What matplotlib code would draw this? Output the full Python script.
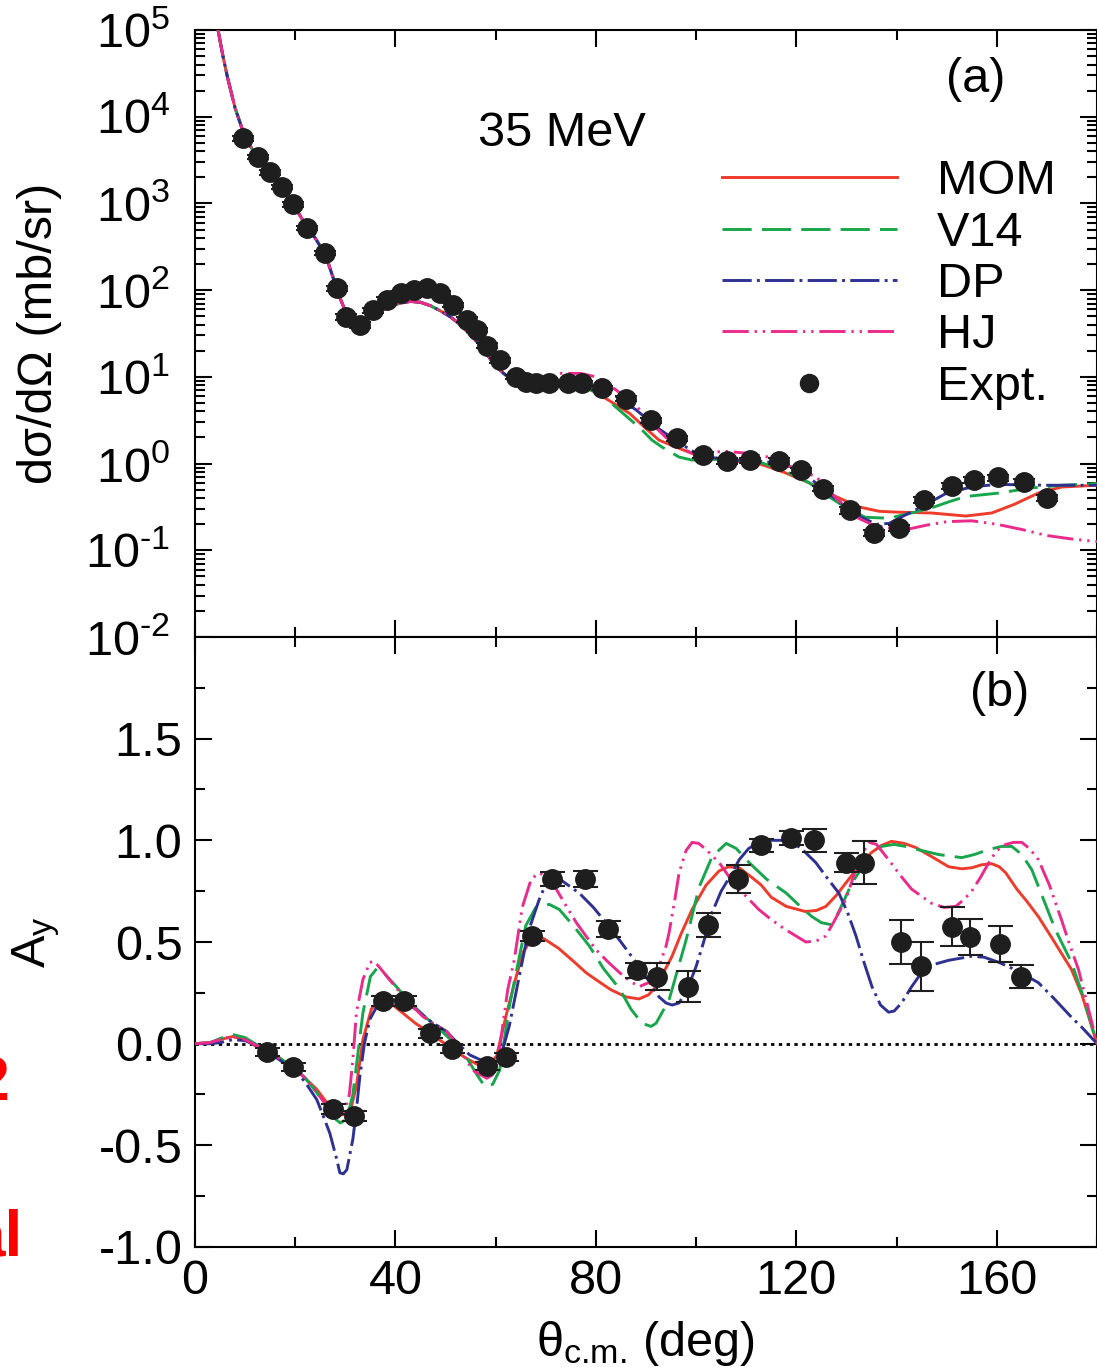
import numpy as np
import matplotlib.pyplot as plt
from matplotlib.lines import Line2D
from matplotlib.ticker import (LogLocator, FuncFormatter, NullFormatter,
                               FixedLocator, MultipleLocator, FormatStrFormatter)

# ---------------- (a) cross section, stored as log10(mb/sr) ----------------
# forward angles: all four potentials agree here
XS_THETA_FWD = [4.6, 5.5, 6.5, 8, 10, 12, 14, 16, 18, 20, 22, 24, 26, 28, 29,
                30.5, 32, 33.5, 35, 37, 39, 41, 43, 45, 47, 49, 51, 53, 55, 57,
                59, 60, 62, 64]
XS_LOG_FWD = [5.0, 4.72, 4.45, 4.1, 3.76, 3.57, 3.42, 3.26, 3.12, 2.95, 2.76,
              2.6, 2.41, 2.07, 1.9, 1.69, 1.6, 1.61, 1.68, 1.76, 1.82, 1.85,
              1.87, 1.86, 1.82, 1.76, 1.69, 1.6, 1.48, 1.36, 1.2, 1.12, 1.02,
              0.95]

MOM_XS_THETA = [67, 70, 74, 77, 80, 82, 84.5, 86.7, 89.5, 92.6, 96, 99.5, 102.6,
                107, 112.5, 117.5, 122.5, 127.5, 132.5, 136.5, 140, 147, 153.8,
                159, 163.5, 168.3, 173, 180]
MOM_XS_LOG = [0.93, 0.93, 0.93, 0.91, 0.82, 0.75, 0.66, 0.58, 0.43, 0.27, 0.19,
              0.11, 0.06, 0.03, 0.0, -0.1, -0.22, -0.37, -0.5, -0.55, -0.56,
              -0.57, -0.605, -0.57, -0.47, -0.34, -0.27, -0.25]

V14_XS_THETA = [67, 70, 74, 77, 80, 83, 86, 89, 91.2, 93.2, 96.6, 99.2, 103, 108,
                112.5, 117.5, 122.5, 127, 130.5, 133.8, 138.4, 143, 147, 150.5,
                153.8, 160.4, 167, 173, 180]
V14_XS_LOG = [0.93, 0.93, 0.93, 0.9, 0.82, 0.7, 0.55, 0.4, 0.27, 0.19, 0.075,
              0.04, 0.05, 0.04, 0.02, -0.08, -0.22, -0.4, -0.53, -0.62, -0.63,
              -0.57, -0.51, -0.44, -0.38, -0.34, -0.28, -0.25, -0.23]

DP_XS_THETA = [67, 70, 74, 77, 80, 83.3, 88, 92.6, 96.6, 100, 103, 108, 112.5,
               117, 121, 125, 129, 133, 136, 138.5, 141.5, 145, 150, 155, 160,
               170, 180]
DP_XS_LOG = [0.93, 0.93, 0.94, 0.93, 0.88, 0.8, 0.62, 0.4, 0.24, 0.12, 0.07,
             0.04, 0.03, 0.0, -0.08, -0.28, -0.46, -0.62, -0.7, -0.69, -0.6,
             -0.5, -0.34, -0.27, -0.24, -0.25, -0.25]

HJ_XS_THETA = [67, 70, 73, 77, 80, 84, 88, 91, 94, 97, 99.2, 102, 106, 110, 114,
               118, 121, 124, 128, 132, 135, 138, 142, 146, 150, 155, 160, 165,
               170, 175, 180]
HJ_XS_LOG = [0.95, 1.0, 1.04, 1.04, 1.0, 0.85, 0.67, 0.47, 0.3, 0.18, 0.12, 0.13,
             0.14, 0.12, 0.08, -0.02, -0.08, -0.155, -0.4, -0.62, -0.7, -0.74,
             -0.76, -0.71, -0.67, -0.66, -0.7, -0.76, -0.83, -0.87, -0.9]

EXP_XS_THETA = [9.6, 12.5, 14.9, 17.3, 19.5, 22.3, 25.9, 28.3, 30.1, 32.9, 35.5,
                38.4, 41.2, 43.8, 46.2, 48.8, 51.4, 54.2, 56.2, 58.2, 60.8, 64.1,
                66.0, 68.0, 70.6, 74.5, 77.2, 81.3, 86.1, 91.0, 96.2, 101.4,
                106.2, 110.8, 116.5, 121.0, 125.4, 130.7, 135.5, 140.5, 145.4,
                151.0, 155.4, 160.2, 165.4, 170.0]
EXP_XS_LOG = [3.75, 3.535, 3.36, 3.19, 2.99, 2.72, 2.43, 2.02, 1.69, 1.6, 1.77,
              1.89, 1.97, 2.0, 2.02, 1.97, 1.83, 1.66, 1.54, 1.36, 1.19, 1.0,
              0.935, 0.925, 0.93, 0.93, 0.925, 0.87, 0.75, 0.5, 0.29, 0.1, 0.03,
              0.04, 0.03, -0.075, -0.29, -0.54, -0.8, -0.74, -0.42, -0.26, -0.19,
              -0.16, -0.21, -0.4]
EXP_XS_RELERR = [0.06, 0.06, 0.06, 0.06, 0.06, 0.06, 0.06, 0.07, 0.07, 0.07, 0.07,
                 0.06, 0.06, 0.06, 0.06, 0.06, 0.06, 0.06, 0.06, 0.06, 0.06, 0.06,
                 0.06, 0.06, 0.06, 0.06, 0.06, 0.06, 0.07, 0.07, 0.07, 0.07, 0.07,
                 0.07, 0.07, 0.07, 0.07, 0.08, 0.08, 0.08, 0.08, 0.08, 0.08, 0.08,
                 0.08, 0.08]

# ---------------- (b) analyzing power ----------------
MOM_AY_THETA = [0, 3, 5, 7.5, 10, 12.3, 14, 16.3, 18, 20.3, 22, 24.3, 26, 27.5,
                29.5, 30.9, 32.2, 33.5, 35.2, 37.2, 39, 41.5, 44, 46.8, 49, 52.2,
                54, 56.2, 58.4, 60.2, 62.2, 64.1, 65.5, 67.3, 69, 70, 72.5, 75.3,
                78, 80, 83, 86, 88.6, 90.5, 92, 93.5, 95.2, 97, 99.2, 102, 104.6,
                106.5, 108.6, 111, 113, 115, 118, 121.8, 124, 125.9, 128, 130.5,
                133, 135, 137, 139, 141.5, 143.8, 147, 150.4, 153, 155, 157, 159,
                160.5, 161.8, 164, 166, 168.3, 171, 174.9, 177, 180]
MOM_AY = [0, 0.005, 0.02, 0.035, 0.02, -0.015, -0.035, -0.06, -0.09, -0.13,
          -0.17, -0.225, -0.28, -0.32, -0.35, -0.34, -0.21, 0.02, 0.17, 0.225,
          0.2, 0.15, 0.1, 0.055, 0.015, -0.04, -0.07, -0.1, -0.115, -0.06, 0.15,
          0.33, 0.45, 0.52, 0.525, 0.51, 0.47, 0.41, 0.35, 0.315, 0.265, 0.23,
          0.22, 0.24, 0.28, 0.35, 0.43, 0.54, 0.66, 0.78, 0.85, 0.87, 0.865,
          0.82, 0.78, 0.72, 0.675, 0.65, 0.655, 0.675, 0.73, 0.81, 0.89, 0.94,
          0.975, 0.995, 0.985, 0.965, 0.92, 0.87, 0.86, 0.865, 0.88, 0.885,
          0.87, 0.84, 0.76, 0.7, 0.625, 0.52, 0.365, 0.24, 0.0]

V14_AY_THETA = [0, 3, 5, 7.5, 10, 12.3, 14, 16.3, 18, 20.3, 22, 24.3, 26, 27.5,
                29, 30.3, 31.5, 32.5, 33.5, 35, 36.3, 38, 40.2, 43, 46, 48.2, 51,
                54, 56.2, 57.8, 59.4, 60.8, 62.7, 64.5, 66, 68, 70.7, 72.7, 75.5,
                78.7, 81.5, 84.7, 87, 89.2, 91, 92, 94.6, 96.5, 98, 100.6, 103.2,
                106, 108, 110.6, 114, 118, 121, 123.1, 125, 127, 128.5, 131.1, 134,
                137, 139.5, 141.8, 145, 148.4, 153, 155.5, 158.4, 161, 163, 165,
                167, 169, 171.7, 174.9, 177, 180]
V14_AY = [0, 0.005, 0.025, 0.045, 0.03, -0.005, -0.03, -0.06, -0.09, -0.13, -0.17,
          -0.24, -0.31, -0.36, -0.39, -0.37, -0.25, -0.05, 0.15, 0.33, 0.37, 0.34,
          0.28, 0.2, 0.13, 0.085, 0.02, -0.06, -0.15, -0.21, -0.2, -0.13, 0.18,
          0.4, 0.58, 0.67, 0.685, 0.66, 0.58, 0.48, 0.37, 0.27, 0.17, 0.1, 0.085,
          0.1, 0.215, 0.38, 0.51, 0.77, 0.92, 0.985, 0.96, 0.89, 0.81, 0.74,
          0.67, 0.625, 0.595, 0.585, 0.65, 0.79, 0.9, 0.97, 0.98, 0.97, 0.95,
          0.93, 0.915, 0.93, 0.955, 0.97, 0.97, 0.93, 0.855, 0.73, 0.56, 0.4,
          0.25, 0.0]

DP_AY_THETA = [0, 3, 5, 7.5, 10, 12.3, 14, 16.3, 18, 20.3, 22, 24.3, 25.5, 26.9,
               28.3, 28.9, 29.6, 30.3, 31.5, 32.2, 32.9, 33.8, 34.9, 36.9, 38.5,
               41.5, 44, 47, 50.2, 52.5, 54.8, 57, 58.8, 60.3, 61.4, 62.7, 64.7,
               66.5, 68.7, 70.1, 71.5, 73.3, 76.7, 79.5, 82, 85, 88, 90.5, 92.6,
               94, 95.2, 96.6, 98.3, 100, 101.5, 103.2, 105, 107.2, 108.6, 110.5,
               112.5, 115, 118.5, 121, 123.9, 126, 128.5, 130.3, 131.9, 133.5,
               135.1, 136.8, 138.4, 139.5, 141, 143, 145, 147.5, 150.4, 155,
               157.5, 160.4, 164, 168.3, 171.5, 174.9, 177, 180]
DP_AY = [0, 0.0, 0.005, 0.02, 0.015, -0.01, -0.04, -0.07, -0.1, -0.14, -0.19,
         -0.275, -0.35, -0.44, -0.57, -0.635, -0.64, -0.62, -0.47, -0.33, -0.16,
         0.0, 0.12, 0.21, 0.22, 0.21, 0.17, 0.11, 0.06, 0.0, -0.055, -0.08, -0.09,
         -0.07, -0.03, 0.085, 0.33, 0.55, 0.71, 0.79, 0.81, 0.8, 0.74, 0.67,
         0.595, 0.5, 0.4, 0.31, 0.23, 0.2, 0.19, 0.2, 0.27, 0.38, 0.5, 0.645,
         0.75, 0.84, 0.905, 0.96, 0.99, 1.0, 1.0, 0.96, 0.89, 0.82, 0.74, 0.64,
         0.53, 0.4, 0.28, 0.19, 0.155, 0.16, 0.2, 0.28, 0.35, 0.39, 0.41, 0.43,
         0.425, 0.4, 0.36, 0.3, 0.22, 0.13, 0.08, 0.0]

HJ_AY_THETA = [0, 3, 5, 7.5, 10, 12.3, 14, 16.3, 18, 20.3, 22, 24.3, 25.5, 26.9,
               28.5, 29.8, 30.8, 31.5, 32.2, 33.5, 34.9, 35.8, 37, 38.8, 42, 45.4,
               48, 50.2, 52.5, 55.4, 58.2, 59.3, 60.2, 61.2, 62.4, 63.7, 65.3,
               67.1, 68.7, 70.2, 72.1, 74, 76.1, 78, 80.1, 82.5, 84.7, 86.7, 88.6,
               90.5, 92.6, 94, 94.6, 95.7, 96.6, 98, 99.2, 100.5, 102, 104.6,
               106.6, 108.6, 112.5, 115, 117.9, 121.9, 124, 125.9, 127.5, 129.9,
               132.5, 134.5, 136, 138.4, 141, 143, 147, 149.5, 151.8, 153.5, 155,
               156.8, 158.4, 160, 161.8, 163.4, 165, 166.5, 168.3, 170.5, 172.9,
               174.5, 176.3, 178, 180]
HJ_AY = [0, 0.005, 0.02, 0.035, 0.02, -0.01, -0.035, -0.065, -0.09, -0.13, -0.17,
         -0.24, -0.28, -0.325, -0.34, -0.335, -0.25, -0.08, 0.15, 0.315, 0.4,
         0.405, 0.37, 0.315, 0.22, 0.135, 0.09, 0.06, -0.01, -0.13, -0.17, -0.155,
         -0.11, 0.05, 0.265, 0.41, 0.67, 0.81, 0.84, 0.82, 0.76, 0.68, 0.595,
         0.53, 0.46, 0.4, 0.35, 0.31, 0.28, 0.3, 0.38, 0.48, 0.545, 0.7, 0.84,
         0.95, 0.99, 0.985, 0.955, 0.89, 0.82, 0.76, 0.66, 0.61, 0.56, 0.5, 0.505,
         0.53, 0.6, 0.71, 0.905, 0.99, 0.98, 0.905, 0.82, 0.76, 0.69, 0.67, 0.675,
         0.71, 0.75, 0.82, 0.89, 0.95, 0.98, 0.99, 0.99, 0.96, 0.905, 0.78, 0.61,
         0.49, 0.365, 0.2, 0.0]

EXP_AY_THETA = [14.3, 19.5, 27.5, 31.7, 37.5, 41.8, 46.8, 51.2, 58.2, 62.0, 67.3,
                71.3, 77.9, 82.5, 88.2, 92.2, 98.4, 102.4, 108.4, 113.0, 118.9,
                123.5, 129.9, 133.5, 140.8, 144.8, 151.0, 154.6, 160.6, 164.9]
EXP_AY = [-0.04, -0.115, -0.32, -0.355, 0.21, 0.21, 0.05, -0.025, -0.11, -0.065,
          0.53, 0.81, 0.81, 0.565, 0.36, 0.33, 0.28, 0.585, 0.81, 0.975, 1.01,
          1.0, 0.89, 0.89, 0.5, 0.38, 0.575, 0.525, 0.49, 0.33]
EXP_AY_ERR = [0.02, 0.02, 0.025, 0.025, 0.025, 0.025, 0.02, 0.02, 0.02, 0.02,
              0.025, 0.035, 0.04, 0.04, 0.035, 0.065, 0.075, 0.06, 0.07, 0.033,
              0.035, 0.055, 0.047, 0.105, 0.108, 0.12, 0.095, 0.09, 0.09, 0.055]

MODELS = ["MOM", "V14", "DP", "HJ"]
XS_TAILS = {
    "MOM": (MOM_XS_THETA, MOM_XS_LOG),
    "V14": (V14_XS_THETA, V14_XS_LOG),
    "DP":  (DP_XS_THETA, DP_XS_LOG),
    "HJ":  (HJ_XS_THETA, HJ_XS_LOG),
}
AY_CURVES = {
    "MOM": (MOM_AY_THETA, MOM_AY),
    "V14": (V14_AY_THETA, V14_AY),
    "DP":  (DP_AY_THETA, DP_AY),
    "HJ":  (HJ_AY_THETA, HJ_AY),
}
STYLE = {
    "MOM": dict(color="#EE3B2B", ls="-"),
    "V14": dict(color="#17A64B", ls=(0, (10, 3.5))),
    "DP":  dict(color="#2E3192", ls=(0, (10, 1.8, 1, 1.8))),
    "HJ":  dict(color="#EC2A8C", ls=(0, (9, 2, 0.8, 2, 0.8, 2))),
}
DOT = "#1E1E1E"
LW = 2.1
FS = 35
MS = 14

plt.rcParams.update({
    "font.family": ["Liberation Sans", "DejaVu Sans"],
    "mathtext.fontset": "custom",
    "mathtext.rm": "Liberation Sans",
    "mathtext.it": "Liberation Sans:italic",
    "mathtext.bf": "Liberation Sans:bold",
    "axes.unicode_minus": False,
    "axes.linewidth": 1.5,
})


def decade_label(val, pos):
    # 10^n with a plain hyphen in the exponent
    exp = int(round(np.log10(val)))
    sign = "\\text{-}" if exp < 0 else ""
    return "$\\mathdefault{10^{%s%d}}$" % (sign, abs(exp))


W, H = 1097, 1367
fig = plt.figure(figsize=(W / 100, H / 100), dpi=100)
ax1 = fig.add_axes([195 / W, 1 - 637 / H, (1097 - 195) / W, (637 - 30) / H])
ax2 = fig.add_axes([195 / W, 1 - 1247 / H, (1097 - 195) / W, (1247 - 637) / H])

# (a) cross sections
handles = []
for m in MODELS:
    th = XS_THETA_FWD + XS_TAILS[m][0]
    lg = np.array(XS_LOG_FWD + XS_TAILS[m][1])
    ln, = ax1.plot(th, 10 ** lg, lw=LW, label=m, zorder=3, **STYLE[m])
    handles.append(ln)
xs = 10 ** np.array(EXP_XS_LOG)
ax1.errorbar(EXP_XS_THETA, xs, yerr=xs * np.array(EXP_XS_RELERR), fmt="o",
             ms=MS, color=DOT, ecolor=DOT, elinewidth=1.5, capsize=8,
             capthick=1.5, zorder=5)
handles.append(Line2D([], [], ls="none", marker="o", ms=MS - 1, color=DOT))

ax1.set_yscale("log")
ax1.set_xlim(0, 180)
ax1.set_ylim(1e-2, 1e5)
ax1.yaxis.set_major_locator(LogLocator(base=10, numticks=20))
ax1.yaxis.set_minor_locator(LogLocator(base=10, subs=np.arange(2, 10), numticks=20))
ax1.yaxis.set_major_formatter(FuncFormatter(decade_label))
ax1.yaxis.set_minor_formatter(NullFormatter())
ax1.set_ylabel("dσ/dΩ (mb/sr)", fontsize=FS)
ax1.text(0.865, 0.918, "(a)", transform=ax1.transAxes, fontsize=FS,
         ha="center", va="center")
ax1.text(0.407, 0.83, "35 MeV", transform=ax1.transAxes, fontsize=FS,
         ha="center", va="center")
ax1.legend(handles, MODELS + ["Expt."], loc="upper left",
           bbox_to_anchor=(0.584, 0.787), frameon=False, fontsize=FS,
           handlelength=3.6, handletextpad=0.82, labelspacing=0.13,
           borderpad=0, borderaxespad=0)

# (b) analyzing power
ax2.axhline(0, color="k", lw=2, ls=(0, (1.2, 1.6)), zorder=2)
for m in MODELS:
    ax2.plot(AY_CURVES[m][0], AY_CURVES[m][1], lw=LW, zorder=3, **STYLE[m])
ax2.errorbar(EXP_AY_THETA, EXP_AY, yerr=EXP_AY_ERR, fmt="o", ms=MS, color=DOT,
             ecolor=DOT, elinewidth=1.5, capsize=9, capthick=1.5, zorder=5)
ax2.set_xlim(0, 180)
ax2.set_ylim(-1, 2)
ax2.yaxis.set_major_locator(FixedLocator([-1, -0.5, 0, 0.5, 1.0, 1.5]))
ax2.yaxis.set_minor_locator(FixedLocator([-0.75, -0.25, 0.25, 0.75, 1.25, 1.75]))
ax2.yaxis.set_major_formatter(FormatStrFormatter("%.1f"))
ax2.set_ylabel("A$_{\\text{y}}$", fontsize=FS)
ax2.set_xlabel("θ$_{\\text{c.m.}}$ (deg)", fontsize=FS)
ax2.text(0.892, 0.908, "(b)", transform=ax2.transAxes, fontsize=FS,
         ha="center", va="center")

for ax in (ax1, ax2):
    ax.xaxis.set_major_locator(MultipleLocator(40))
    ax.xaxis.set_minor_locator(MultipleLocator(20))
    ax.tick_params(which="both", direction="in", top=True, right=True,
                   labelsize=FS, width=1.5, pad=9)
    ax.tick_params(which="major", length=12)
    ax.tick_params(which="minor", length=7)
    ax.yaxis.set_label_coords(-0.147, 0.5)
ax1.tick_params(axis="x", labelbottom=False)
ax1.tick_params(axis="y", pad=18)
ax2.xaxis.set_label_coords(0.5, -0.118)

# slide text running in from the left margin
fig.text(10 / W, 1 - 1100 / H, "2", color="red", fontsize=45,
         fontweight="bold", ha="right", va="baseline")
fig.text(22 / W, 1 - 1255 / H, "al", color="red", fontsize=46,
         fontweight="bold", ha="right", va="baseline")

fig.savefig("out.png", dpi=100)
